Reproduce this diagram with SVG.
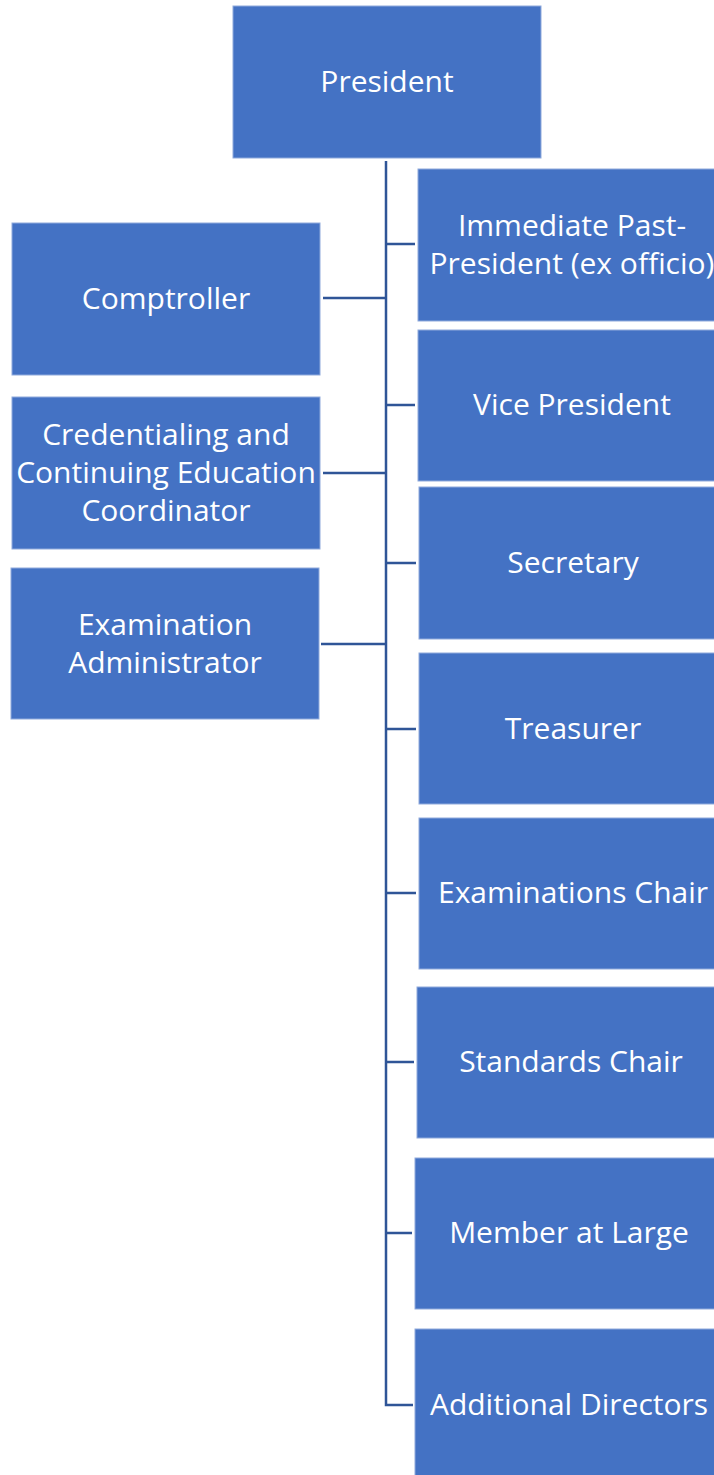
<svg xmlns="http://www.w3.org/2000/svg" width="714" height="1475" viewBox="0 0 714 1475">
<style>
.box{fill:#4472C4;stroke:#8FAADC;stroke-width:1}
.t{fill:#FFFFFF;font-family:"Open Sans","Noto Sans","Liberation Sans",sans-serif;font-size:30px;text-anchor:middle}
.c{stroke:#2F5597;stroke-width:2.5;fill:none}
</style>
<rect width="714" height="1475" fill="#FFFFFF"/>
<g id="connectors">
<path class="c" d="M386,161 V1405 H413"/>
<path class="c" d="M386,244 H415 M386,405 H415 M386,563 H416 M386,729 H416 M386,893 H416 M386,1062 H414 M386,1233 H412"/>
<path class="c" d="M323,298 H386 M323,473 H386 M321,644 H386"/>
</g>
<g id="president"><rect class="box" x="233" y="6" width="308" height="152"/><text class="t" x="387" y="92">President</text></g>
<g id="immediate-past-president"><rect class="box" x="418" y="169" width="308" height="152"/><text class="t" x="572" y="236">Immediate Past-</text><text class="t" x="572" y="274">President (ex officio)</text></g>
<g id="vice-president"><rect class="box" x="418" y="330" width="308" height="151"/><text class="t" x="572" y="415">Vice President</text></g>
<g id="secretary"><rect class="box" x="419" y="487" width="308" height="152"/><text class="t" x="573" y="573">Secretary</text></g>
<g id="treasurer"><rect class="box" x="419" y="653" width="308" height="151"/><text class="t" x="573" y="739">Treasurer</text></g>
<g id="examinations-chair"><rect class="box" x="419" y="818" width="308" height="151"/><text class="t" x="573" y="903">Examinations Chair</text></g>
<g id="standards-chair"><rect class="box" x="417" y="987" width="308" height="151"/><text class="t" x="571" y="1072">Standards Chair</text></g>
<g id="member-at-large"><rect class="box" x="415" y="1158" width="308" height="151"/><text class="t" x="569" y="1243">Member at Large</text></g>
<g id="additional-directors"><rect class="box" x="415" y="1329" width="308" height="152"/><text class="t" x="569" y="1415">Additional Directors</text></g>
<g id="comptroller"><rect class="box" x="12" y="223" width="308" height="152"/><text class="t" x="166" y="309">Comptroller</text></g>
<g id="credentialing"><rect class="box" x="12" y="397" width="308" height="152"/><text class="t" x="166" y="445">Credentialing and</text><text class="t" x="166" y="483">Continuing Education</text><text class="t" x="166" y="521">Coordinator</text></g>
<g id="examination-administrator"><rect class="box" x="11" y="568" width="308" height="151"/><text class="t" x="165" y="635">Examination</text><text class="t" x="165" y="673">Administrator</text></g>
</svg>
